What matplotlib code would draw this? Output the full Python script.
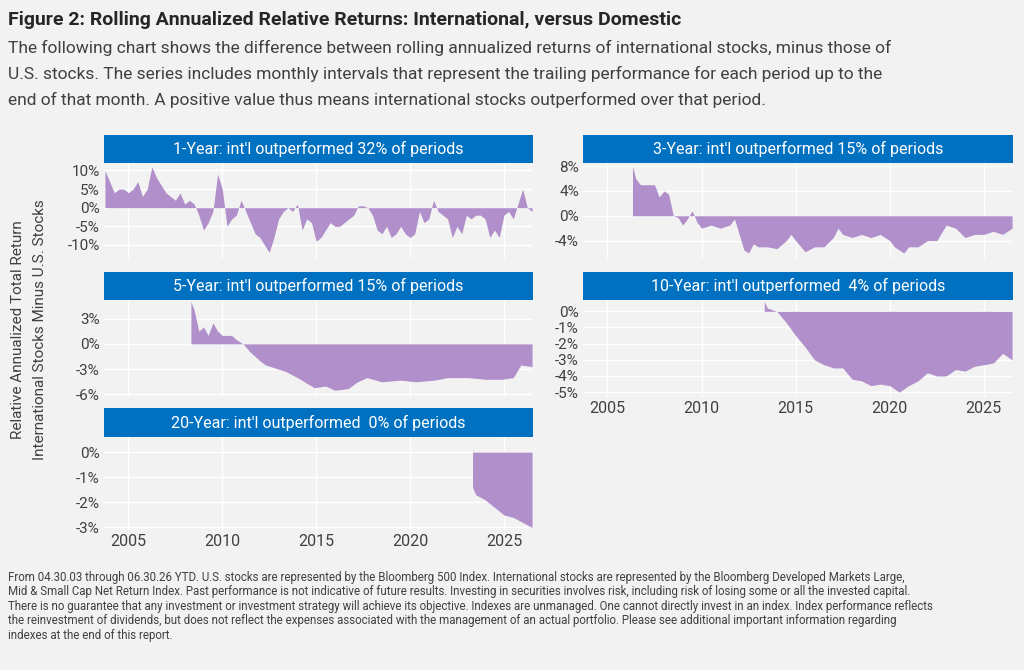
import matplotlib
matplotlib.use("Agg")
import matplotlib.pyplot as plt

yr1 = [2003.75,2004.0,2004.25,2004.5,2004.75,2005.0,2005.25,2005.5,2005.75,2006.0,2006.25,2006.5,2006.75,2007.0,2007.25,2007.5,2007.75,2008.0,2008.25,2008.5,2008.75,2009.0,2009.25,2009.5,2009.75,2010.0,2010.25,2010.5,2010.75,2011.0,2011.25,2011.5,2011.75,2012.0,2012.25,2012.5,2012.75,2013.0,2013.25,2013.5,2013.75,2014.0,2014.25,2014.5,2014.75,2015.0,2015.25,2015.5,2015.75,2016.0,2016.25,2016.5,2016.75,2017.0,2017.25,2017.5,2017.75,2018.0,2018.25,2018.5,2018.75,2019.0,2019.25,2019.5,2019.75,2020.0,2020.25,2020.5,2020.75,2021.0,2021.25,2021.5,2021.75,2022.0,2022.25,2022.5,2022.75,2023.0,2023.25,2023.5,2023.75,2024.0,2024.25,2024.5,2024.75,2025.0,2025.25,2025.5,2025.75,2026.0,2026.25,2026.5]
val1 = [10,7,4,5,5,4,5,7,3,5,11,8,6,4,3,2,4,1,2,1,-2,-6,-4,-1,9,5,-5,-3,-2,2,-1,-4,-7,-8,-10,-12,-8,-3,-1,0,-1,1,-6,-3,-4,-9,-8,-6,-4,-5,-5,-4,-3,-2,0.5,0.5,0,-2,-6,-7,-5,-8,-7,-5,-7,-8,-7,-1,-4,-3,2,-1,-2,-3,-8,-5,-7,-2,-3,-2,-2,-3,-8,-6,-8,-2,-1,-3,1,5,0,-1]

yr3 = [2006.33,2006.5,2006.75,2007.0,2007.5,2007.75,2008.0,2008.25,2008.5,2008.75,2009.0,2009.25,2009.5,2009.75,2010.0,2010.5,2011.0,2011.5,2011.75,2012.0,2012.25,2012.5,2012.75,2013.0,2013.5,2014.0,2014.5,2014.75,2015.0,2015.5,2016.0,2016.5,2017.0,2017.25,2017.5,2018.0,2018.5,2019.0,2019.5,2020.0,2020.25,2020.75,2021.0,2021.5,2022.0,2022.5,2023.0,2023.5,2024.0,2024.5,2025.0,2025.5,2026.0,2026.25,2026.5]
val3 = [8,6,5,5,5,3,4,3.5,0,-0.3,-1.5,-0.5,0.8,-1,-2,-1.5,-2,-1.5,-0.5,-3,-5.5,-6,-4.5,-5,-5,-5.3,-4,-3,-4,-5.8,-5,-5,-3.5,-2,-3,-3.5,-3,-3.5,-3,-4,-5,-6,-5,-5,-4,-4,-1.5,-2,-3.5,-3,-3,-2.5,-3,-2.5,-2]

yr5 = [2008.33,2008.5,2008.75,2009.0,2009.25,2009.5,2009.75,2010.0,2010.5,2010.75,2011.1,2011.5,2012.0,2012.3,2013.0,2013.4,2014.0,2014.9,2015.5,2016.0,2016.7,2017.2,2017.7,2018.5,2019.5,2020.3,2021.3,2022.0,2023.1,2024.0,2024.9,2025.5,2025.9,2026.5]
val5 = [5,4,1.5,2,1,2.5,1.5,1,1,0.5,0,-1,-2,-2.5,-3,-3.3,-4,-5.2,-5,-5.5,-5.3,-4.5,-4,-4.5,-4.3,-4.5,-4.3,-4,-4,-4.2,-4.2,-4,-2.5,-2.7]

yr10 = [2013.33,2013.5,2014.0,2014.5,2015.0,2015.5,2016.0,2016.5,2017.0,2017.5,2018.0,2018.5,2019.0,2019.5,2020.0,2020.5,2021.0,2021.5,2022.0,2022.5,2023.0,2023.5,2024.0,2024.5,2025.0,2025.5,2026.0,2026.5]
val10 = [0.6,0.2,0,-0.7,-1.5,-2.2,-3,-3.3,-3.5,-3.5,-4.2,-4.3,-4.6,-4.5,-4.6,-5,-4.6,-4.3,-3.8,-4,-4,-3.6,-3.7,-3.4,-3.3,-3.2,-2.6,-3]

yr20 = [2023.33,2023.5,2024.0,2024.5,2025.0,2025.5,2026.0,2026.5]
val20 = [-1.4,-1.7,-1.9,-2.2,-2.5,-2.6,-2.8,-3.0]

titles = ["1-Year: int'l outperformed 32% of periods", "3-Year: int'l outperformed 15% of periods",
          "5-Year: int'l outperformed 15% of periods", "10-Year: int'l outperformed  4% of periods",
          "20-Year: int'l outperformed  0% of periods"]
yticks = [[10,5,0,-5,-10],[8,4,0,-4],[3,0,-3,-6],[0,-1,-2,-3,-4,-5],[0,-1,-2,-3]]
ylims = [(-13.5,12),(-6.8,8.5),(-6.3,5.2),(-5.3,0.7),(-3.1,0.6)]
xyears = [2005,2010,2015,2020,2025]
series = [(yr1,val1),(yr3,val3),(yr5,val5),(yr10,val10),(yr20,val20)]

W, H = 1024, 670
fig = plt.figure(figsize=(W/100, H/100), dpi=100)
fig.patch.set_facecolor("#f2f2f2")
plt.rcParams['font.family'] = ["Roboto", "DejaVu Sans"]

def pxbox(x0, y0, x1, y1):
    return [x0/W, 1-y1/H, (x1-x0)/W, (y1-y0)/H]

boxes = [(104,533,135,163,258),(583,1013,135,163,258),
         (104,533,272,300,397),(583,1013,272,300,397),
         (104,533,408,437,530)]
FILL = "#b08fca"
BLUE = "#0070c0"
for i,(x0,x1,ht,pt,pb) in enumerate(boxes):
    hax = fig.add_axes(pxbox(x0,ht,x1,pt))
    hax.set_facecolor(BLUE); hax.set_xticks([]); hax.set_yticks([])
    for s in hax.spines.values(): s.set_visible(False)
    hax.text(0.5,0.5,titles[i],color="white",ha="center",va="center",fontsize=11.5,transform=hax.transAxes)
    ax = fig.add_axes(pxbox(x0,pt,x1,pb))
    ax.set_facecolor("#f2f2f2")
    xs, ys = series[i]
    ax.fill_between(xs, ys, 0, color=FILL, lw=0)
    ax.set_xlim(2003.7, 2026.55)
    ax.set_ylim(*ylims[i])
    ax.set_yticks(yticks[i])
    ax.set_yticklabels([f"{t}%" for t in yticks[i]], fontsize=11, color="#404040")
    ax.set_xticks(xyears)
    ax.grid(True, color="white", lw=1)
    ax.set_axisbelow(True)
    ax.tick_params(length=0, pad=3)
    if i in (3,4):
        ax.set_xticklabels([str(y) for y in xyears], fontsize=11.5, color="#404040")
    else:
        ax.set_xticklabels([])
    for s in ax.spines.values(): s.set_visible(False)

fig.text(18/W, 1-330/H, "Relative Annualized Total Return", rotation=90, ha="center", va="center", fontsize=11, color="#404040")
fig.text(40/W, 1-330/H, "International Stocks Minus U.S. Stocks", rotation=90, ha="center", va="center", fontsize=11, color="#404040")

fig.text(8/W, 1-20/H, "Figure 2: Rolling Annualized Relative Returns: International, versus Domestic", fontsize=14, fontweight="bold", color="#262626", va="center")
sub = ["The following chart shows the difference between rolling annualized returns of international stocks, minus those of",
       "U.S. stocks. The series includes monthly intervals that represent the trailing performance for each period up to the",
       "end of that month. A positive value thus means international stocks outperformed over that period."]
for k, s in enumerate(sub):
    fig.text(8/W, 1-(48+26*k)/H, s, fontsize=12.5, color="#404040", va="center")

foot = ["From 04.30.03 through 06.30.26 YTD. U.S. stocks are represented by the Bloomberg 500 Index. International stocks are represented by the Bloomberg Developed Markets Large,",
        "Mid & Small Cap Net Return Index. Past performance is not indicative of future results. Investing in securities involves risk, including risk of losing some or all the invested capital.",
        "There is no guarantee that any investment or investment strategy will achieve its objective. Indexes are unmanaged. One cannot directly invest in an index. Index performance reflects",
        "the reinvestment of dividends, but does not reflect the expenses associated with the management of an actual portfolio. Please see additional important information regarding",
        "indexes at the end of this report."]
for k, s in enumerate(foot):
    fig.text(8/W, 1-(577+14.6*k)/H, s, fontsize=8.3, color="#404040", va="center")

fig.savefig("out.png", dpi=100, facecolor=fig.get_facecolor())
